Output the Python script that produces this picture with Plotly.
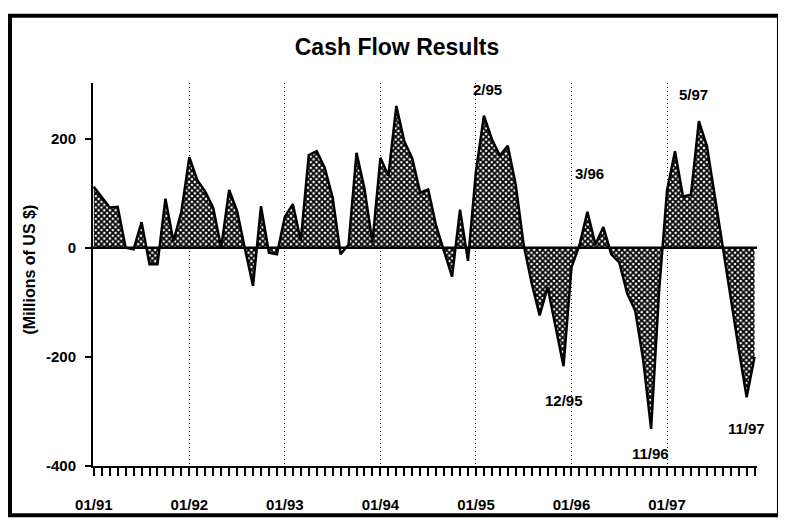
import plotly.graph_objects as go

# Monthly cash flow, 01/91 .. 12/97 (millions of US $)
cash_flow = [
    112, 93, 74, 75, 0, -3, 47, -30, -30, 90, 12, 66,          # 1991
    166, 124, 103, 73, 0, 106, 67, -3, -70, 76, -9, -12,       # 1992
    57, 80, 13, 170, 177, 147, 92, -12, 6, 174, 108, 10,       # 1993
    165, 132, 260, 195, 164, 101, 107, 40, -5, -53, 70, -24,   # 1994
    140, 242, 199, 169, 187, 115, 5, -65, -124, -72, -145, -217,  # 1995
    -36, 5, 66, 6, 38, -12, -27, -84, -115, -205, -332, -80,   # 1996
    105, 177, 94, 97, 232, 187, 95, 0, -95, -185, -274, -200,  # 1997
]
month_index = list(range(len(cash_flow)))

year_tick_months = [0, 12, 24, 36, 48, 60, 72]
year_tick_labels = ["01/91", "01/92", "01/93", "01/94", "01/95", "01/96", "01/97"]

y_tick_values = [-400, -200, 0, 200]
y_tick_labels = ["-400", "-200", "0", "200"]

# labelled extreme months: (month index, label)
callout_months = [49, 62, 76, 59, 70, 82]
callout_labels = ["2/95", "3/96", "5/97", "12/95", "11/96", "11/97"]
callout_shift = [(4, 26), (2, 38), (-5, 27), (0, -34), (-1, -25), (0, -31)]

FONT = "Liberation Sans, Arial, sans-serif"

fig = go.Figure()
fig.add_trace(go.Scatter(
    x=month_index, y=cash_flow, mode="lines",
    line=dict(color="black", width=2.5),
    fill="tozeroy", fillcolor="white",
    fillpattern=dict(shape="x", size=4, solidity=0.68, fgcolor="black",
                     bgcolor="white", fillmode="replace"),
    showlegend=False, hoverinfo="x+y",
))

# zero line on top of the fill
fig.add_shape(type="line", xref="paper", x0=0, x1=1, yref="y", y0=0, y1=0,
              line=dict(color="black", width=2.5), layer="above")

# outer frame
fig.add_shape(type="rect", xref="paper", yref="paper",
              x0=-0.125, x1=1.0331, y0=-0.1289, y1=1.1753,
              line=dict(color="black", width=4), layer="above")

for m, lab, (dx, dy) in zip(callout_months, callout_labels, callout_shift):
    fig.add_annotation(x=m, y=cash_flow[m], text=lab, showarrow=False,
                       xshift=dx, yshift=dy, xanchor="center", yanchor="middle",
                       font=dict(family=FONT, size=15, color="black", weight="bold"))

fig.add_annotation(xref="paper", yref="paper", x=-0.0949, y=0.513,
                   text="(Millions of US $)", textangle=-90, showarrow=False,
                   xanchor="center", yanchor="middle",
                   font=dict(family=FONT, size=16, color="black", weight="bold"))

fig.update_layout(
    width=778, height=517,
    margin=dict(l=85, r=29, t=75, b=54),
    paper_bgcolor="white", plot_bgcolor="white",
    title=dict(text="Cash Flow Results", x=0.5, xanchor="center",
               y=0.9246, yanchor="middle",
               font=dict(family=FONT, size=23, color="black", weight="bold")),
    xaxis=dict(
        range=[-0.1, 83.3], tickmode="array", tickvals=year_tick_months,
        ticktext=year_tick_labels, ticks="outside", ticklen=8, tickwidth=1.5,
        tickcolor="black", ticklabelstandoff=16,
        minor=dict(dtick=1, tick0=0, ticks="outside", ticklen=8, tickwidth=1.5,
                   tickcolor="black", showgrid=False),
        showgrid=True, gridcolor="black", griddash="1px,3px", gridwidth=1,
        showline=True, linecolor="black", linewidth=2, zeroline=False,
        tickfont=dict(family=FONT, size=15, color="black", weight="bold"),
    ),
    yaxis=dict(
        range=[-400, 302], tickmode="array", tickvals=y_tick_values,
        ticktext=y_tick_labels, ticks="outside", ticklen=6, tickwidth=1.5,
        tickcolor="black", ticklabelstandoff=6,
        showgrid=False, zeroline=False,
        showline=True, linecolor="black", linewidth=2,
        tickfont=dict(family=FONT, size=15, color="black", weight="bold"),
    ),
)

fig.write_html("out.html")
